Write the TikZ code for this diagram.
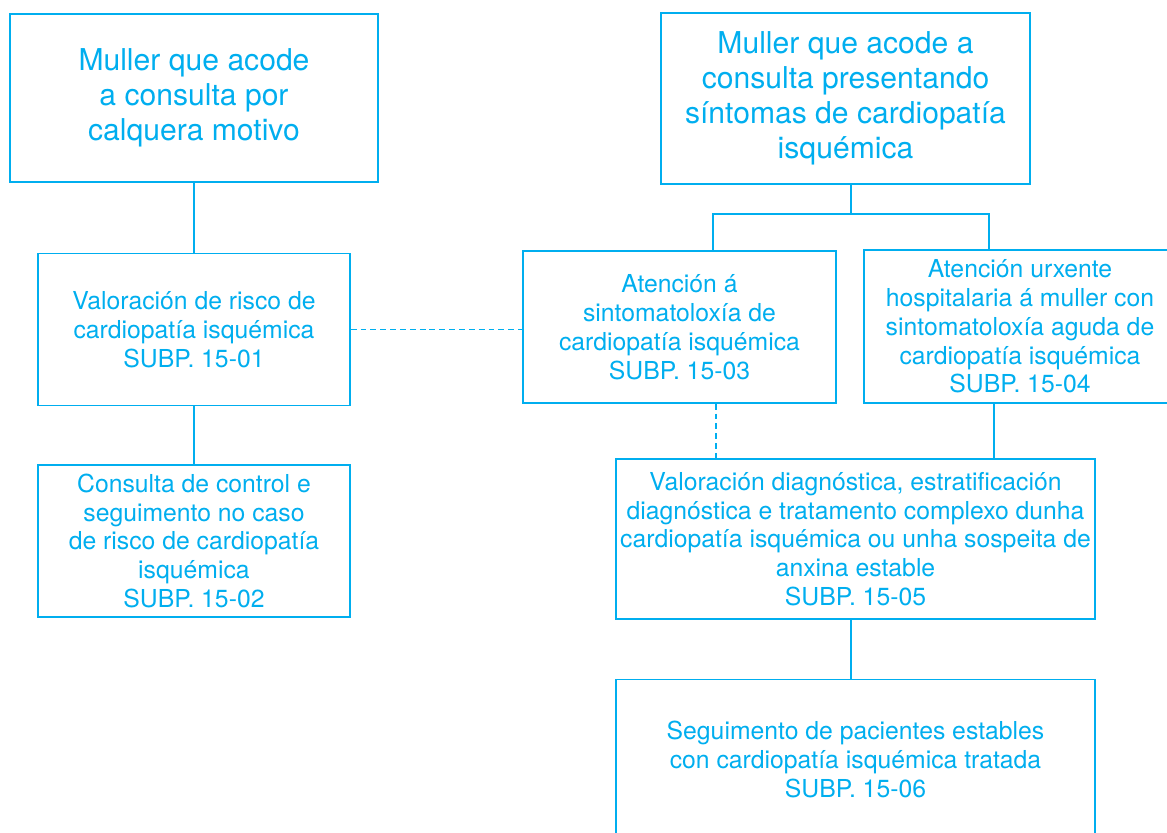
\documentclass[tikz,border=0pt]{standalone}
\usepackage{fontspec}
\setmainfont{TeX Gyre Heros}
\usetikzlibrary{positioning}
\definecolor{subpblue}{RGB}{0,174,239}

\begin{document}
\begin{tikzpicture}[x=0.025cm, y=-0.025cm, line width=1pt,
  box/.style={draw=subpblue, text=subpblue, align=center, inner sep=0pt,
    font=\fontsize{17.6pt}{20.5pt}\selectfont},
  topbox/.style={box, font=\fontsize{21.4pt}{25pt}\selectfont},
  link/.style={draw=subpblue},
  dashedlink/.style={link, line width=1.1pt, dash pattern=on 4.2pt off 2.8pt}]
 \useasboundingbox (0,0) rectangle (1167,833);
 \clip (0,0) rectangle (1167,833);
 % left branch
 \node [topbox, minimum width=9.2cm, minimum height=4.2cm] (muller) at (194,98)
  {Muller que acode\\a consulta por\\calquera motivo};
 \node [box, minimum width=7.8cm, minimum height=3.8cm, below=1.75cm of muller] (valrisco)
  {Valoración de risco de\\cardiopatía isquémica\\SUBP. 15-01};
 \node [box, minimum width=7.8cm, minimum height=3.8cm, below=1.45cm of valrisco] (control)
  {Consulta de control e\\seguimento no caso\\de risco de cardiopatía\\isquémica\\SUBP. 15-02};
 % right branch
 \node [topbox, minimum width=9.225cm, minimum height=4.275cm] (mullersint) at (845.5,98.5)
  {Muller que acode a\\consulta presentando\\síntomas de cardiopatía\\isquémica};
 \node [box, minimum width=7.825cm, minimum height=3.8cm] (atencion) at (679.5,327)
  {Atención á\\sintomatoloxía de\\cardiopatía isquémica\\SUBP. 15-03};
 \node [box, minimum width=7.8cm, minimum height=3.825cm] (urxente) at (1020,326.5)
  {Atención urxente\\hospitalaria á muller con\\sintomatoloxía aguda de\\cardiopatía isquémica\\SUBP. 15-04};
 \node [box, minimum width=11.975cm, minimum height=4cm] (diag) at (855.5,539)
  {Valoración diagnóstica, estratificación\\diagnóstica e tratamento complexo dunha\\cardiopatía isquémica ou unha sospeita de\\anxina estable\\SUBP. 15-05};
 \node [box, minimum width=11.975cm, minimum height=4cm, below=1.475cm of diag] (seguim)
  {Seguimento de pacientes estables\\con cardiopatía isquémica tratada\\SUBP. 15-06};
 \coordinate (split) at (851,214);
 \coordinate (splitL) at (713,214);
 \coordinate (splitR) at (989,214);
 % connectors
 \draw [link] (valrisco.north) -- (valrisco.north |- muller.south);
 \draw [link] (valrisco) -- (control);
 \draw [dashedlink] (valrisco.east) -- (valrisco.east -| atencion.west);
 \draw [link] (split |- mullersint.south) -- (split);
 \draw [link] (splitL |- atencion.north) -- (splitL) -- (splitR) -- (splitR |- urxente.north);
 \draw [dashedlink] ([xshift=0.9125cm]atencion.south) -- ([xshift=0.9125cm]atencion.south |- diag.north);
 \draw [link] ([xshift=-0.65cm]urxente.south) -- ([xshift=-0.65cm]urxente.south |- diag.north);
 \draw [link] ([xshift=-0.1125cm]diag.south) -- ([xshift=-0.1125cm]seguim.north);
\end{tikzpicture}
\end{document}
